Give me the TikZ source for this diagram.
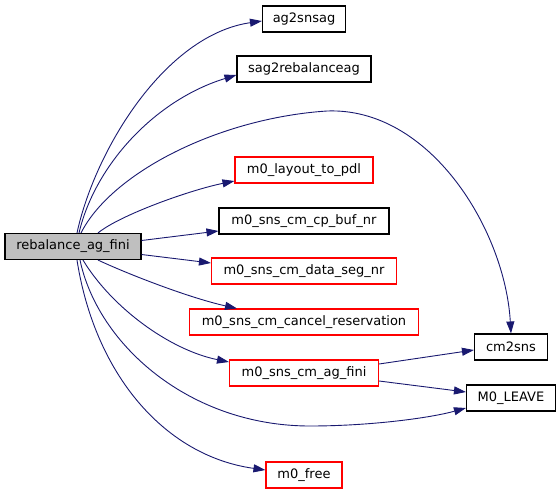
\documentclass[tikz,border=0pt]{standalone}
\usepackage{fontspec}
\setmainfont{DejaVu Sans}
\usepackage{tikz}
\usepackage{xcolor}
\usetikzlibrary{arrows.meta}

\definecolor{edgeblue}{HTML}{191970}
\definecolor{boxgray}{HTML}{BFBFBF}

\begin{document}
\begin{tikzpicture}[x=1pt, y=-1pt,
  fnbox/.style={rectangle, draw=black, line width=1.1pt, fill=white, minimum height=26pt, inner sep=0pt, font=\fontsize{13}{15}\selectfont},
  redbox/.style={fnbox, draw=red},
  callee/.style={draw=edgeblue, line width=0.9pt, -{Triangle[length=12pt, width=8pt]}}]
\useasboundingbox (0,0) rectangle (560,493);

\node[fnbox, fill=boxgray, minimum width=136pt] (rebal) at (73,246.5) {rebalance\_ag\_fini};

\node[fnbox, minimum width=83pt] (ag2snsag) at (304,19) {ag2snsag};
\node[fnbox, minimum width=134pt] (sag2rebal) at (304,69) {sag2rebalanceag};
\node[redbox, minimum width=138pt] (layout) at (304,170) {m0\_layout\_to\_pdl};
\node[fnbox, minimum width=170pt] (cpbuf) at (304,221) {m0\_sns\_cm\_cp\_buf\_nr};
\node[redbox, minimum width=185pt] (dataseg) at (304,271) {m0\_sns\_cm\_data\_seg\_nr};
\node[redbox, minimum width=229pt] (cancel) at (304,322) {m0\_sns\_cm\_cancel\_reservation};
\node[redbox, minimum width=149pt] (agfini) at (304,373) {m0\_sns\_cm\_ag\_fini};
\node[redbox, minimum width=76pt] (mfree) at (304,475) {m0\_free};

\node[fnbox, minimum width=73pt] (cmsns) at (511,347) {cm2sns};
\node[fnbox, minimum width=89pt] (leave) at (511,398) {M0\_LEAVE};

% calls from rebalance_ag_fini
\draw[callee] ([xshift=4pt]rebal.north) .. controls (95,150) and (165,35) .. ([yshift=-2pt]ag2snsag.west);
\draw[callee] ([xshift=6pt]rebal.north) .. controls (95,165) and (155,100) .. ([yshift=-6pt]sag2rebal.west);
\draw[callee] ([xshift=8pt]rebal.north) .. controls (112,172) and (220,118) .. (327,111)
  .. controls (430,107) and (505,230) .. (cmsns.north);
\draw[callee] ([xshift=25pt]rebal.north) .. controls (120,215) and (190,190) .. ([yshift=-11pt]layout.west);
\draw[callee] ([yshift=6pt]rebal.east) -- ([yshift=-10pt]cpbuf.west);
\draw[callee] ([yshift=-8pt]rebal.east) -- ([yshift=8pt]dataseg.west);
\draw[callee] ([xshift=25pt]rebal.south) .. controls (130,275) and (190,298) .. ([xshift=-67pt]cancel.north);
\draw[callee] ([xshift=10pt]rebal.south) .. controls (112,308) and (170,350) .. ([yshift=11pt]agfini.west);
\draw[callee] ([xshift=7pt]rebal.south) .. controls (98,345) and (190,426) .. (310,426)
  .. controls (370,426) and (430,418) .. ([yshift=-10pt]leave.west);
\draw[callee] ([xshift=4pt]rebal.south) .. controls (95,375) and (165,456) .. ([yshift=5pt]mfree.west);

% calls from m0_sns_cm_ag_fini
\draw[callee] ([yshift=9pt]agfini.east) -- ([yshift=-3pt]cmsns.west);
\draw[callee] ([yshift=-8pt]agfini.east) -- ([yshift=6pt]leave.west);
\end{tikzpicture}
\end{document}
